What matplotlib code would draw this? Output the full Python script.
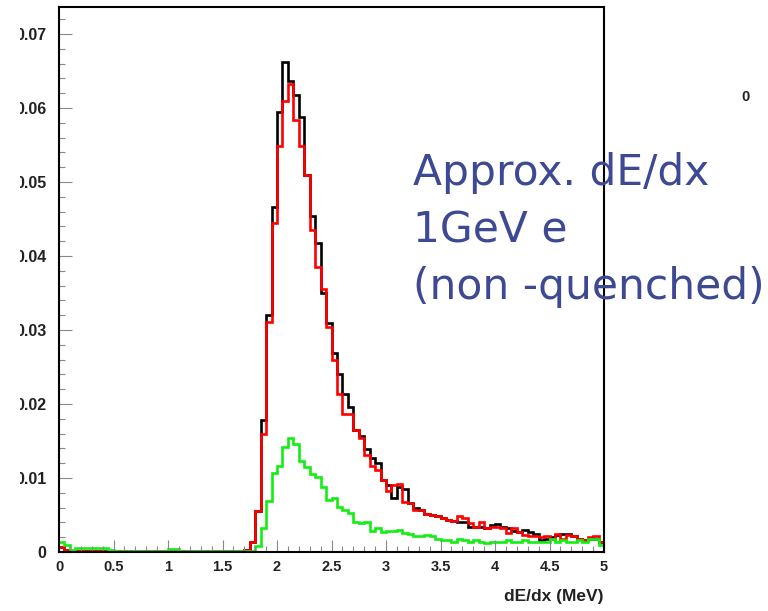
import numpy as np
import matplotlib
matplotlib.use("Agg")
import matplotlib.pyplot as plt
from matplotlib.ticker import MultipleLocator, FixedLocator, FixedFormatter
from matplotlib.transforms import Bbox

# 100 bins of 0.05 MeV from 0 to 5
bin_edges = np.linspace(0, 5, 101)

black_vals = [
    0.0007, 0.0003, 0.0002, 0.0002, 0.0002, 0.0002, 0.0002, 0.0002, 0.0002, 0.0001,
    0.0001, 0.0001, 0.0001, 0.0001, 0.0001, 0.0001, 0.0001, 0.0001, 0.0001, 0.0001,
    0.0001, 0.0001, 0.0001, 0.0001, 0.0001, 0.0001, 0.0001, 0.0001, 0.0001, 0.0001,
    0.0001, 0.0001, 0.0001, 0.0001, 0.0003, 0.0014, 0.0056, 0.0178, 0.0320, 0.0466,
    0.0595, 0.0662, 0.0636, 0.0617, 0.0588, 0.0509, 0.0454, 0.0417, 0.0350, 0.0309,
    0.0269, 0.0241, 0.0214, 0.0196, 0.0165, 0.0157, 0.0139, 0.0127, 0.0120, 0.0097,
    0.0091, 0.0073, 0.0088, 0.0085, 0.0066, 0.0059, 0.0057, 0.0052, 0.0050, 0.0048,
    0.0046, 0.0043, 0.0042, 0.0041, 0.0041, 0.0034, 0.0034, 0.0034, 0.0032, 0.0036,
    0.0038, 0.0034, 0.0032, 0.0029, 0.0027, 0.0030, 0.0027, 0.0025, 0.0016, 0.0018,
    0.0020, 0.0023, 0.0025, 0.0024, 0.0022, 0.0018, 0.0016, 0.0018, 0.0018, 0.0014,
]

red_vals = [
    0.0007, 0.0003, 0.0002, 0.0002, 0.0002, 0.0002, 0.0002, 0.0002, 0.0002, 0.0001,
    0.0001, 0.0001, 0.0001, 0.0001, 0.0001, 0.0001, 0.0001, 0.0001, 0.0001, 0.0001,
    0.0001, 0.0001, 0.0001, 0.0001, 0.0001, 0.0001, 0.0001, 0.0001, 0.0001, 0.0001,
    0.0001, 0.0001, 0.0001, 0.0001, 0.0003, 0.0013, 0.0056, 0.0159, 0.0311, 0.0445,
    0.0549, 0.0609, 0.0632, 0.0584, 0.0548, 0.0509, 0.0435, 0.0385, 0.0356, 0.0304,
    0.0260, 0.0214, 0.0187, 0.0187, 0.0165, 0.0154, 0.0131, 0.0116, 0.0111, 0.0097,
    0.0083, 0.0091, 0.0092, 0.0067, 0.0066, 0.0057, 0.0057, 0.0052, 0.0050, 0.0048,
    0.0046, 0.0043, 0.0042, 0.0048, 0.0046, 0.0039, 0.0034, 0.0041, 0.0032, 0.0034,
    0.0034, 0.0032, 0.0026, 0.0032, 0.0027, 0.0023, 0.0021, 0.0022, 0.0020, 0.0021,
    0.0017, 0.0024, 0.0018, 0.0023, 0.0021, 0.0018, 0.0016, 0.0020, 0.0021, 0.0014,
]

green_vals = [
    0.0013, 0.0009, 0.0003, 0.0006, 0.0006, 0.0006, 0.0005, 0.0005, 0.0005, 0.0003,
    0.0002, 0.0002, 0.0002, 0.0002, 0.0002, 0.0002, 0.0002, 0.0002, 0.0002, 0.0002,
    0.0004, 0.0004, 0.0002, 0.0002, 0.0002, 0.0002, 0.0002, 0.0002, 0.0002, 0.0002,
    0.0002, 0.0002, 0.0002, 0.0002, 0.0001, 0.0002, 0.0008, 0.0032, 0.0069, 0.0107,
    0.0116, 0.0142, 0.0154, 0.0146, 0.0123, 0.0115, 0.0106, 0.0102, 0.0088, 0.0070,
    0.0073, 0.0061, 0.0057, 0.0053, 0.0041, 0.0039, 0.0040, 0.0029, 0.0032, 0.0027,
    0.0028, 0.0029, 0.0030, 0.0026, 0.0025, 0.0022, 0.0021, 0.0023, 0.0021, 0.0017,
    0.0016, 0.0016, 0.0014, 0.0017, 0.0016, 0.0014, 0.0016, 0.0014, 0.0012, 0.0014,
    0.0013, 0.0014, 0.0016, 0.0014, 0.0013, 0.0016, 0.0014, 0.0013, 0.0013, 0.0014,
    0.0018, 0.0014, 0.0016, 0.0014, 0.0013, 0.0016, 0.0013, 0.0017, 0.0018, 0.0009,
]

x_ticks = [0, 0.5, 1, 1.5, 2, 2.5, 3, 3.5, 4, 4.5, 5]
x_tick_labels = ["0", "0.5", "1", "1.5", "2", "2.5", "3", "3.5", "4", "4.5", "5"]
y_ticks = [0, 0.01, 0.02, 0.03, 0.04, 0.05, 0.06, 0.07]
y_tick_labels = ["0", "0.01", "0.02", "0.03", "0.04", "0.05", "0.06", "0.07"]

W, H = 768, 611
fig = plt.figure(figsize=(W / 100, H / 100), dpi=100)
ax = fig.add_axes([59 / W, 1 - 552 / H, (604 - 59) / W, (552 - 7) / H])

ax.stairs(black_vals, bin_edges, color="black", lw=1.9, baseline=None)
ax.stairs(red_vals, bin_edges, color="#ff0000", lw=1.9, baseline=None)
ax.stairs(green_vals, bin_edges, color="#11ee11", lw=1.9, baseline=None)

ax.set_xlim(0, 5)
ax.set_ylim(0, 0.07365)

for s in ax.spines.values():
    s.set_linewidth(1.5)
    s.set_color("black")

ax.xaxis.set_major_locator(FixedLocator(x_ticks))
ax.xaxis.set_major_formatter(FixedFormatter(x_tick_labels))
ax.xaxis.set_minor_locator(MultipleLocator(0.1))
ax.yaxis.set_major_locator(FixedLocator(y_ticks))
ax.yaxis.set_major_formatter(FixedFormatter(y_tick_labels))
ax.yaxis.set_minor_locator(MultipleLocator(0.002))
ax.tick_params(axis="both", which="major", direction="in", length=9, width=0.8,
               color="#888888", top=False, right=False)
ax.tick_params(axis="both", which="minor", direction="in", length=4.5, width=0.8,
               color="#888888", top=False, right=False)
ax.tick_params(axis="x", which="major", pad=6)
ax.tick_params(axis="y", which="major", pad=9)
for t in ax.get_xticklabels():
    t.set_fontfamily("Liberation Sans")
    t.set_fontweight("bold")
    t.set_fontsize(10.5)
    t.set_color("#222222")
for t in ax.get_yticklabels():
    t.set_fontfamily("Liberation Sans")
    t.set_fontweight("bold")
    t.set_fontsize(11.5)
    t.set_color("#222222")

fig.text(604 / W, 1 - 597 / H, "dE/dx (MeV)", ha="right", va="center",
         fontfamily="Liberation Sans", fontweight="bold", fontsize=12.5, color="#222222")
fig.text(745 / W, 1 - 97 / H, "0", ha="center", va="center",
         fontfamily="Liberation Sans", fontweight="bold", fontsize=10.5, color="#222222")

txt_kw = dict(ha="left", va="baseline", fontfamily="DejaVu Sans", fontsize=30.5,
              color="#3e4993")
fig.text(413 / W, 1 - 185 / H, "Approx. dE/dx", **txt_kw)
fig.text(413 / W, 1 - 243 / H, "1GeV e", **txt_kw)
fig.text(413 / W, 1 - 299 / H, "(non -quenched)", **txt_kw)

# the reference picture is cropped on the left: y labels lose part of their leading "0"
fig.canvas.draw()
clip = Bbox.from_extents(20, 0, W, H)
for t in ax.get_yticklabels():
    t.set_clip_box(clip)
    t.set_clip_on(True)

fig.savefig("out.png", dpi=100)
